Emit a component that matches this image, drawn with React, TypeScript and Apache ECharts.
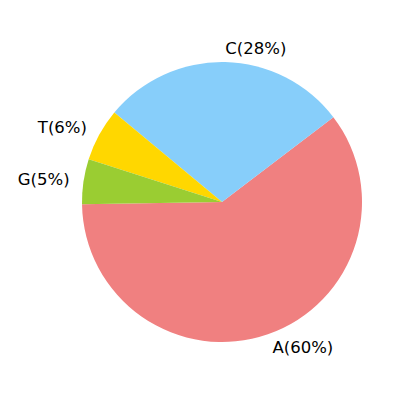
import { useEffect, useRef } from "react";
import * as echarts from "echarts";

const categories = ["A", "C", "T", "G"];
const values = [60.1, 28.6, 6.1, 5.2];
const labels = ["A(60%)", "C(28%)", "T(6%)", "G(5%)"];
const colors = ["#F08080", "#87CEFA", "#FFD700", "#9ACD32"];

export default function App() {
  const el = useRef<HTMLDivElement>(null);

  useEffect(() => {
    if (!el.current) return;
    const chart = echarts.init(el.current, undefined, { renderer: "svg" });
    chart.setOption({
      animation: false,
      backgroundColor: "#fff",
      series: [{
        type: "pie",
        center: [222, 202],
        radius: 140,
        startAngle: 180.94,
        clockwise: false,
        avoidLabelOverlap: false,
        emphasis: { disabled: true },
        data: categories.map((c, i) => ({
          name: c,
          value: values[i],
          itemStyle: { color: colors[i] },
          label: { formatter: labels[i] },
        })),
        label: {
          show: true,
          position: "outside",
          color: "#000",
          fontFamily: "DejaVu Sans",
          fontSize: 16.5,
          distanceToLabelLine: 0,
        },
        labelLine: { show: false, length: 14, length2: 0 },
      }],
    });
    return () => chart.dispose();
  }, []);

  return <div ref={el} style={{ position: "absolute", left: 0, top: 0, width: 400, height: 400 }} />;
}
